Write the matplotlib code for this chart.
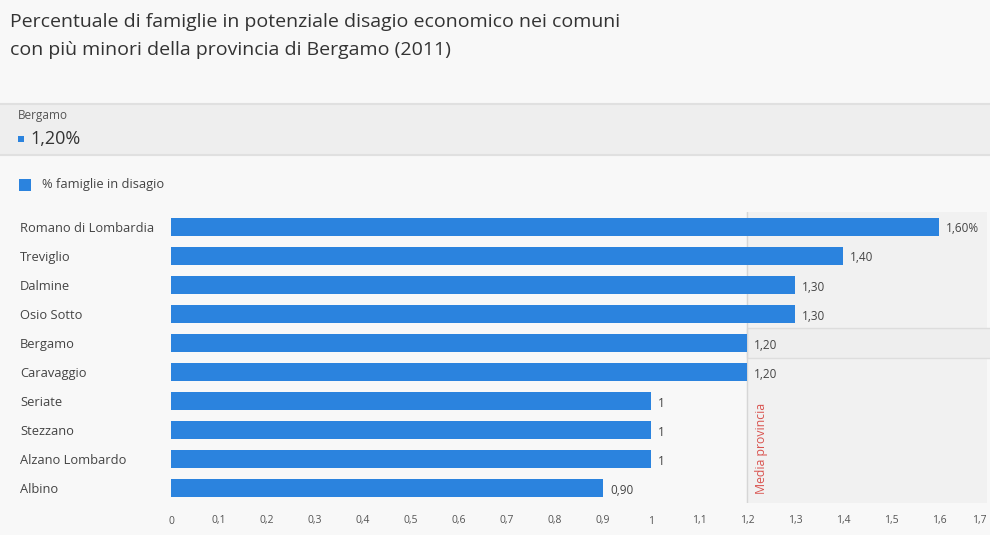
import matplotlib.pyplot as plt
from matplotlib.patches import Rectangle

comuni = ['Romano di Lombardia', 'Treviglio', 'Dalmine', 'Osio Sotto', 'Bergamo',
          'Caravaggio', 'Seriate', 'Stezzano', 'Alzano Lombardo', 'Albino']
valori = [1.6, 1.4, 1.3, 1.3, 1.2, 1.2, 1.0, 1.0, 1.0, 0.9]
etichette = ['1,60%', '1,40', '1,30', '1,30', '1,20', '1,20', '1', '1', '1', '0,90']
ticks = [i / 10 for i in range(18)]
tick_labels = ['0', '0,1', '0,2', '0,3', '0,4', '0,5', '0,6', '0,7', '0,8', '0,9',
               '1', '1,1', '1,2', '1,3', '1,4', '1,5', '1,6', '1,7']
media = 1.2

BLUE = '#2b83de'
BG = '#f8f8f8'

plt.rcParams['font.family'] = ['Open Sans', 'DejaVu Sans']

fig = plt.figure(figsize=(9.9, 5.35), dpi=100)
fig.patch.set_facecolor(BG)

# title
fig.text(10 / 990, 1 - 22 / 535, 'Percentuale di famiglie in potenziale disagio economico nei comuni',
         fontsize=14, color='#333333', va='center', ha='left')
fig.text(10 / 990, 1 - 50 / 535, 'con più minori della provincia di Bergamo (2011)',
         fontsize=14, color='#333333', va='center', ha='left')

# header band (tooltip)
fig.patches.append(Rectangle((0, 1 - 155 / 535), 1, 51 / 535, transform=fig.transFigure,
                             facecolor='#eeeeee', edgecolor='none', zorder=0))
for yy in (104, 155):
    fig.lines.append(plt.Line2D([0, 1], [1 - yy / 535] * 2, transform=fig.transFigure,
                                color='#e0e0e0', lw=1.5))
fig.text(18 / 990, 1 - 116 / 535, 'Bergamo', fontsize=8.5, color='#555555', va='center')
fig.patches.append(Rectangle((18 / 990, 1 - 142 / 535), 6 / 990, 6 / 535,
                             transform=fig.transFigure, facecolor=BLUE, edgecolor='none'))
fig.text(30 / 990, 1 - 139 / 535, '1,20%', fontsize=13, color='#333333', va='center')

# legend
fig.patches.append(Rectangle((19 / 990, 1 - 191 / 535), 12 / 990, 12 / 535,
                             transform=fig.transFigure, facecolor=BLUE, edgecolor='none'))
fig.text(42 / 990, 1 - 185 / 535, '% famiglie in disagio', fontsize=9.3, color='#444444', va='center')

ax = fig.add_axes([171 / 990, 1 - 503 / 535, (987 - 171) / 990, 291 / 535])
ax.set_facecolor(BG)
y = list(range(len(comuni)))
ax.axvspan(media, 1.7, color='#f1f1f1', zorder=0)
ax.barh(y, valori, height=0.62, color=BLUE, zorder=3)
ax.set_xlim(0, 1.7)
ax.set_ylim(len(comuni) - 0.5, -0.5)

# highlighted row
bi = comuni.index('Bergamo')
ax.add_patch(Rectangle((media, bi - 0.5), 1.75 - media, 1.0, facecolor='#eeeeee',
                       edgecolor='#dddddd', lw=1, zorder=1, clip_on=False))

ax.axvline(media, color='#d6d6d6', lw=1, zorder=2)
ax.text(media + 0.03, 9.2, 'Media provincia', rotation=90, color='#d9534f',
        fontsize=8.8, ha='center', va='bottom', zorder=4)

for yi, v, lab in zip(y, valori, etichette):
    ax.text(v + 0.015, yi + 0.08, lab, fontsize=8.5, color='#444444', va='center', zorder=4)

ax.set_yticks(y)
ax.set_yticklabels(comuni, fontsize=9.3, color='#444444', ha='left')
ax.tick_params(axis='y', length=0, pad=151 * 0.72)
ax.set_xticks(ticks)
ax.set_xticklabels(tick_labels, fontsize=7.5, color='#555555')
ax.get_xticklabels()[-1].set_ha('right')
ax.tick_params(axis='x', length=0, pad=9)
for s in ax.spines.values():
    s.set_visible(False)

fig.savefig('out.png', dpi=100, facecolor=BG)
